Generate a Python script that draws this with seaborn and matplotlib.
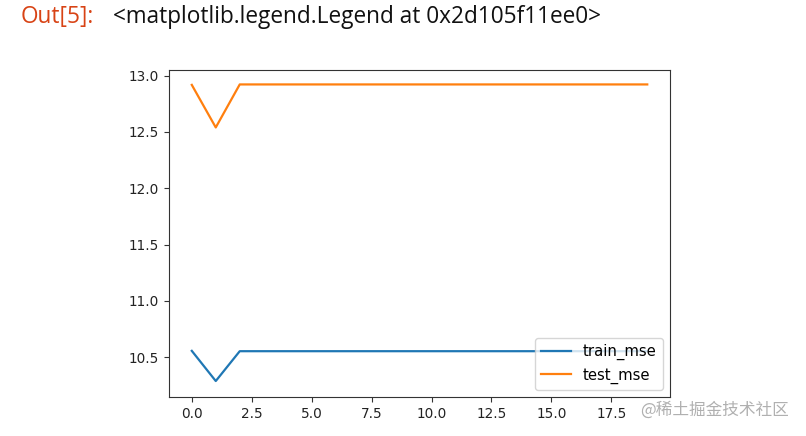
import matplotlib
matplotlib.use("Agg")
import matplotlib.pyplot as plt
import seaborn as sns
import pandas as pd

epochs = list(range(20))
train_mse = [10.556, 10.288] + [10.553] * 18
test_mse = [12.918, 12.540] + [12.922] * 18
series_names = ["train_mse", "test_mse"]
colors = ["#1f77b4", "#ff7f0e"]

df = pd.DataFrame({"epoch": epochs * 2,
                   "mse": train_mse + test_mse,
                   "series": [series_names[0]] * 20 + [series_names[1]] * 20})

fig = plt.figure(figsize=(8.06, 4.36), dpi=100)
ax = fig.add_axes([0.2097, 0.0894, 0.6216, 0.750])

sns.lineplot(data=df, x="epoch", y="mse", hue="series", palette=colors,
             ax=ax, linewidth=1.6)
ax.set_xlabel("")
ax.set_ylabel("")
ax.set_ylim(10.146, 13.05)
ax.set_xticks([0, 2.5, 5, 7.5, 10, 12.5, 15, 17.5])
ax.set_yticks([10.5, 11.0, 11.5, 12.0, 12.5, 13.0])
ax.tick_params(labelsize=9.8, colors="#333333", labelcolor="#222222")
for s in ax.spines.values():
    s.set_color("#333333")
leg = ax.legend(loc="lower right", fontsize=10.7, frameon=True)

fig.text(0.026, 0.961, "Out[5]:", color="#D84315", fontsize=16.3,
         family=["Open Sans", "DejaVu Sans"], va="center", ha="left")
fig.text(0.140, 0.961, "<matplotlib.legend.Legend at 0x2d105f11ee0>", color="#111111",
         fontsize=16.3, family=["Open Sans", "DejaVu Sans"], va="center", ha="left")
fig.text(0.794, 0.06, "@稀土掘金技术社区", color="#b0b0b0", fontsize=12,
         family=["Noto Sans CJK SC", "DejaVu Sans"], va="center", ha="left")

fig.savefig("out.png", dpi=100)
